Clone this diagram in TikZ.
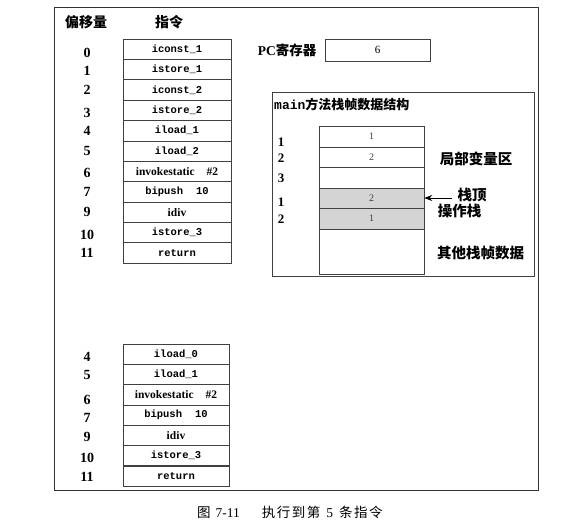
\documentclass[tikz,border=0pt]{standalone}
\usepackage{fontspec}
\setmainfont{Liberation Serif}
\setmonofont{Liberation Mono}
\newfontfamily\cjk{Noto Sans CJK SC}
\usetikzlibrary{arrows.meta}
\begin{document}
\begin{tikzpicture}[x=1pt,y=-1pt,
  frame/.style={draw=black!80, line width=0.9pt},
  cell/.style={draw=black!75, line width=0.5pt, minimum width=108pt, minimum height=20.36pt, inner sep=0pt,
    font=\ttfamily\bfseries\fontsize{10.5}{12}\selectfont},
  bcell/.style={cell, minimum width=106pt, minimum height=20.29pt},
  scell/.style={draw=black!75, line width=0.5pt, minimum width=105pt, inner sep=0pt,
    font=\fontsize{10}{12}\selectfont, text=black!75},
  num/.style={inner sep=0pt, font=\bfseries\fontsize{14}{14}\selectfont},
  snum/.style={inner sep=0pt, font=\bfseries\fontsize{13}{13}\selectfont},
  head/.style={inner sep=0pt, font=\cjk\bfseries\fontsize{14}{14}\selectfont},
  lab/.style={inner sep=0pt, font=\cjk\bfseries\fontsize{14.5}{14.5}\selectfont},
  ser/.style={font=\rmfamily\bfseries\fontsize{11.5}{12}\selectfont}
]
\useasboundingbox (0,0) rectangle (581,526);
% outer frame
\draw[frame] (54,7) rectangle (538,490);
% headers
\node[head] (hoff) at (86,22) {偏移量};
\node[head] (hins) at (169,22) {指令};
% top instruction table
\node[cell] (t0) at (177,49.2) {iconst\_1};
\node[cell] (t1) at (177,69.5) {istore\_1};
\node[cell] (t2) at (177,89.9) {iconst\_2};
\node[cell] (t3) at (177,110.3) {istore\_2};
\node[cell] (t4) at (177,130.6) {iload\_1};
\node[cell] (t5) at (177,151.0) {iload\_2};
\node[cell,ser] (t6) at (177,171.4) {invokestatic\hspace{12pt}\#2};
\node[cell] (t7) at (177,191.7) {bipush\hspace{13pt}10};
\node[cell,ser] (t8) at (177,212.1) {idiv};
\node[cell] (t9) at (177,232.5) {istore\_3};
\node[cell] (t10) at (177,252.8) {return};
% offsets
\node[num] (o0) at (87,53) {0};
\node[num] (o1) at (87,71) {1};
\node[num] (o2) at (87,90) {2};
\node[num] (o3) at (87,113) {3};
\node[num] (o4) at (87,131) {4};
\node[num] (o5) at (87,151) {5};
\node[num] (o6) at (87,173) {6};
\node[num] (o7) at (87,192) {7};
\node[num] (o8) at (87,212) {9};
\node[num] (o9) at (87,235) {10};
\node[num] (o10) at (87,253) {11};
% PC register
\node[inner sep=0pt, font=\bfseries\fontsize{13.5}{14}\selectfont] (pcl) at (287,50) {PC{\cjk\bfseries 寄存器}};
\node[draw=black!75, line width=0.5pt, minimum width=105pt, minimum height=22pt, inner sep=0pt,
  font=\fontsize{11}{12}\selectfont] (pc) at (377.5,50) {6};
% main frame
\draw[draw=black!75, line width=0.6pt] (272,92) rectangle (534,276);
\node[anchor=west, inner sep=0pt, font=\ttfamily\bfseries\fontsize{13}{14}\selectfont] (mt) at (274,104) {main{\cjk\bfseries 方法栈帧数据结构}};
% stack table
\node[scell, minimum height=21pt] (s1) at (371.5,136.5) {1};
\node[scell, minimum height=20pt] (s2) at (371.5,157) {2};
\node[scell, minimum height=21pt] (s3) at (371.5,177.5) {};
\node[scell, minimum height=20pt, fill=black!17] (s4) at (371.5,198) {2};
\node[scell, minimum height=21pt, fill=black!17] (s5) at (371.5,218.5) {1};
\node[scell, minimum height=45pt] (s6) at (371.5,251.5) {};
\node[snum] (n1) at (281,142) {1};
\node[snum] (n2) at (281,158) {2};
\node[snum] (n3) at (281,178) {3};
\node[snum] (n4) at (281,202) {1};
\node[snum] (n5) at (281,219) {2};
\node[lab] (lv) at (476,159) {局部变量区};
\coordinate (astart) at (452,198);
\draw[line width=0.7pt, -{Stealth[length=8pt,width=6pt]}] (astart) -- (s4.east);
\node[lab] (top) at (472,195) {栈顶};
\node[lab] (ops) at (459.5,211) {操作栈};
\node[lab] (oth) at (480.5,253) {其他栈帧数据};
% bottom table
\node[bcell] (b0) at (176,354.1) {iload\_0};
\node[bcell] (b1) at (176,374.4) {iload\_1};
\node[bcell,ser] (b2) at (176,394.7) {invokestatic\hspace{12pt}\#2};
\node[bcell] (b3) at (176,415.0) {bipush\hspace{13pt}10};
\node[bcell,ser] (b4) at (176,435.3) {idiv};
\node[bcell] (b5) at (176,455.6) {istore\_3};
\node[bcell] (b6) at (176,475.9) {return};
\node[num] (p0) at (87,357) {4};
\node[num] (p1) at (87,375) {5};
\node[num] (p2) at (87,400) {6};
\node[num] (p3) at (87,418) {7};
\node[num] (p4) at (87,437) {9};
\node[num] (p5) at (87,458) {10};
\node[num] (p6) at (87,477) {11};
% caption
\node[anchor=west, inner sep=0pt, font=\fontsize{13.5}{14}\selectfont] (cap) at (197,512)
  {{\cjk 图}\hspace{5pt}7-11\hspace{22pt}{\cjk 执\hspace{1.5pt}行\hspace{1.5pt}到\hspace{1.5pt}第}\hspace{6pt}5\hspace{6pt}{\cjk 条\hspace{1.5pt}指\hspace{1.5pt}令}};
\end{tikzpicture}
\end{document}
